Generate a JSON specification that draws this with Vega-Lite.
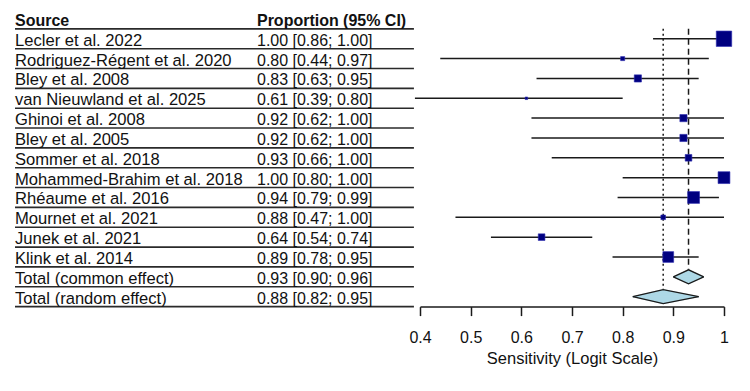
{
  "$schema": "https://vega.github.io/schema/vega-lite/v6.json",
  "padding": {"left": 14, "top": 9, "right": 5, "bottom": 0},
  "bounds": "flush",
  "config": {"view": {"stroke": null}, "font": "Liberation Sans", "text": {"color": "#111"}},
  "datasets": {
    "rows": [
      {"study": "Source", "ci": "Proportion (95% CI)", "type": "header"},
      {"study": "Lecler et al. 2022", "ci": "1.00 [0.86; 1.00]", "est": 1.00, "lower": 0.86, "upper": 1.00, "weight": 25.8, "type": "study"},
      {"study": "Rodriguez-Régent et al. 2020", "ci": "0.80 [0.44; 0.97]", "est": 0.80, "lower": 0.44, "upper": 0.97, "weight": 1.8, "type": "study"},
      {"study": "Bley et al. 2008", "ci": "0.83 [0.63; 0.95]", "est": 0.83, "lower": 0.63, "upper": 0.95, "weight": 5.6, "type": "study"},
      {"study": "van Nieuwland et al. 2025", "ci": "0.61 [0.39; 0.80]", "est": 0.61, "lower": 0.39, "upper": 0.80, "weight": 0.7, "type": "study"},
      {"study": "Ghinoi et al. 2008", "ci": "0.92 [0.62; 1.00]", "est": 0.92, "lower": 0.62, "upper": 1.00, "weight": 5.6, "type": "study"},
      {"study": "Bley et al.  2005", "ci": "0.92 [0.62; 1.00]", "est": 0.92, "lower": 0.62, "upper": 1.00, "weight": 5.6, "type": "study"},
      {"study": "Sommer et al. 2018", "ci": "0.93 [0.66; 1.00]", "est": 0.93, "lower": 0.66, "upper": 1.00, "weight": 4.8, "type": "study"},
      {"study": "Mohammed-Brahim et al. 2018", "ci": "1.00 [0.80; 1.00]", "est": 1.00, "lower": 0.80, "upper": 1.00, "weight": 15.2, "type": "study"},
      {"study": "Rhéaume et al. 2016", "ci": "0.94 [0.79; 0.99]", "est": 0.94, "lower": 0.79, "upper": 0.99, "weight": 15.2, "type": "study"},
      {"study": "Mournet et al. 2021", "ci": "0.88 [0.47; 1.00]", "est": 0.88, "lower": 0.47, "upper": 1.00, "weight": 2.3, "type": "study"},
      {"study": "Junek et al. 2021", "ci": "0.64 [0.54; 0.74]", "est": 0.64, "lower": 0.54, "upper": 0.74, "weight": 4.8, "type": "study"},
      {"study": "Klink et al. 2014", "ci": "0.89 [0.78; 0.95]", "est": 0.89, "lower": 0.78, "upper": 0.95, "weight": 12.6, "type": "study"},
      {"study": "Total (common effect)", "ci": "0.93 [0.90; 0.96]", "est": 0.93, "lower": 0.90, "upper": 0.96, "type": "summary"},
      {"study": "Total (random effect)", "ci": "0.88 [0.82; 0.95]", "est": 0.88, "lower": 0.82, "upper": 0.95, "type": "summary"}
    ]
  },
  "spacing": 0,
  "hconcat": [
    {
      "width": 405,
      "height": 297.6,
      "data": {"name": "rows"},
      "encoding": {
        "y": {"field": "study", "type": "nominal", "axis": null,
          "scale": {"paddingInner": 0, "paddingOuter": 0, "domain": ["Source", "Lecler et al. 2022", "Rodriguez-Régent et al. 2020", "Bley et al. 2008", "van Nieuwland et al. 2025", "Ghinoi et al. 2008", "Bley et al.  2005", "Sommer et al. 2018", "Mohammed-Brahim et al. 2018", "Rhéaume et al. 2016", "Mournet et al. 2021", "Junek et al. 2021", "Klink et al. 2014", "Total (common effect)", "Total (random effect)"]}}
      },
      "layer": [
        {
          "mark": {"type": "rule", "strokeWidth": 1.6, "color": "#2a2a2a"},
          "encoding": {
            "x": {"datum": 0, "type": "quantitative", "scale": {"domain": [0, 1]}, "axis": null},
            "x2": {"datum": 0.985},
            "y": {"field": "study", "type": "nominal", "bandPosition": 1}
          }
        },
        {
          "transform": [{"filter": "datum.type !== 'header'"}],
          "mark": {"type": "text", "align": "left", "baseline": "alphabetic", "dy": 7, "fontSize": 16.6},
          "encoding": {
            "x": {"datum": 0, "type": "quantitative"},
            "text": {"field": "study"}
          }
        },
        {
          "transform": [{"filter": "datum.type !== 'header'"}],
          "mark": {"type": "text", "align": "left", "baseline": "alphabetic", "dy": 7, "fontSize": 16},
          "encoding": {
            "x": {"datum": 0.5975, "type": "quantitative"},
            "text": {"field": "ci"}
          }
        },
        {
          "transform": [{"filter": "datum.type === 'header'"}],
          "mark": {"type": "text", "align": "left", "baseline": "alphabetic", "dy": 7, "fontSize": 16, "fontWeight": "bold"},
          "encoding": {
            "x": {"datum": 0, "type": "quantitative"},
            "text": {"field": "study"}
          }
        },
        {
          "transform": [{"filter": "datum.type === 'header'"}],
          "mark": {"type": "text", "align": "left", "baseline": "alphabetic", "dy": 7, "fontSize": 16, "fontWeight": "bold"},
          "encoding": {
            "x": {"datum": 0.5975, "type": "quantitative"},
            "text": {"field": "ci"}
          }
        }
      ]
    },
    {
      "width": 304,
      "height": 297.6,
      "data": {"name": "rows"},
      "encoding": {
        "y": {"field": "study", "type": "nominal", "axis": null,
          "scale": {"paddingInner": 0, "paddingOuter": 0, "domain": ["Source", "Lecler et al. 2022", "Rodriguez-Régent et al. 2020", "Bley et al. 2008", "van Nieuwland et al. 2025", "Ghinoi et al. 2008", "Bley et al.  2005", "Sommer et al. 2018", "Mohammed-Brahim et al. 2018", "Rhéaume et al. 2016", "Mournet et al. 2021", "Junek et al. 2021", "Klink et al. 2014", "Total (common effect)", "Total (random effect)"]}}
      },
      "layer": [
        {
          "transform": [{"filter": "datum.type === 'summary'"}],
          "mark": {"type": "rule", "strokeWidth": 1.5, "color": "#1a1a1a", "yOffset": -9.9, "y2Offset": -7},
          "encoding": {
            "x": {"field": "est", "type": "quantitative",
              "scale": {"domain": [0.4, 1], "nice": false, "zero": false},
              "axis": {"values": [0.4, 0.5, 0.6, 0.7, 0.8, 0.9, 1], "format": "~g", "grid": false, "labelFlush": false,
                "domainColor": "#1a1a1a", "domainWidth": 1.5, "tickColor": "#1a1a1a", "tickWidth": 1.5, "tickSize": 9,
                "labelFontSize": 16, "labelColor": "#111", "labelPadding": 14, "labelFont": "Liberation Sans",
                "title": "Sensitivity (Logit Scale)", "titleFontSize": 16.5, "titleFontWeight": "normal", "titleColor": "#111", "titlePadding": 5, "titleFont": "Liberation Sans"}},
            "y": {"datum": "Lecler et al. 2022", "type": "nominal"},
            "y2": {"field": "study"},
            "strokeDash": {"field": "study", "type": "nominal", "legend": null,
              "scale": {"domain": ["Total (common effect)", "Total (random effect)"], "range": [[6, 4], [2, 3]]}}
          }
        },
        {
          "transform": [{"filter": "datum.type === 'study'"}],
          "mark": {"type": "rule", "strokeWidth": 1.5, "color": "#1a1a1a"},
          "encoding": {
            "x": {"field": "lower", "type": "quantitative"},
            "x2": {"field": "upper"}
          }
        },
        {
          "transform": [{"filter": "datum.type === 'study'"}],
          "mark": {"type": "point", "shape": "square", "filled": true, "color": "#000080", "stroke": "#2b2bb0", "strokeWidth": 0.6, "opacity": 1},
          "encoding": {
            "x": {"field": "est", "type": "quantitative"},
            "size": {"field": "weight", "type": "quantitative", "legend": null, "scale": {"domain": [0, 26], "range": [0, 240]}}
          }
        },
        {
          "transform": [
            {"filter": "datum.type === 'summary'"},
            {"fold": ["lower", "upper"], "as": ["side", "edge"]},
            {"fold": ["edge", "est"], "as": ["vk", "vx"]}
          ],
          "mark": {"type": "line", "interpolate": "linear-closed", "fill": "#ADD8E6", "stroke": "#ADD8E6", "strokeWidth": 0.8},
          "encoding": {
            "x": {"field": "vx", "type": "quantitative"},
            "yOffset": {"field": "vk", "type": "nominal", "scale": {"type": "point", "domain": ["est", "edge"], "range": [2.9, 9.92], "padding": 0}},
            "detail": {"field": "study"},
            "order": {"field": "vx", "type": "quantitative"}
          }
        },
        {
          "transform": [
            {"filter": "datum.type === 'summary'"},
            {"fold": ["lower", "upper"], "as": ["side", "edge"]},
            {"fold": ["edge", "est"], "as": ["vk", "vx"]}
          ],
          "mark": {"type": "line", "interpolate": "linear-closed", "fill": "#ADD8E6", "stroke": "#ADD8E6", "strokeWidth": 0.8},
          "encoding": {
            "x": {"field": "vx", "type": "quantitative"},
            "yOffset": {"field": "vk", "type": "nominal", "scale": {"type": "point", "domain": ["est", "edge"], "range": [16.94, 9.92], "padding": 0}},
            "detail": {"field": "study"},
            "order": {"field": "vx", "type": "quantitative"}
          }
        },
        {
          "transform": [
            {"filter": "datum.type === 'summary'"},
            {"fold": ["lower", "upper"], "as": ["side", "edge"]},
            {"fold": ["edge", "est"], "as": ["vk", "vx"]}
          ],
          "mark": {"type": "line", "interpolate": "linear", "color": "#1a1a1a", "strokeWidth": 1.3},
          "encoding": {
            "x": {"field": "vx", "type": "quantitative"},
            "yOffset": {"field": "vk", "type": "nominal", "scale": {"type": "point", "domain": ["est", "edge"], "range": [2.9, 9.92], "padding": 0}},
            "detail": {"field": "study"},
            "order": {"field": "vx", "type": "quantitative"}
          }
        },
        {
          "transform": [
            {"filter": "datum.type === 'summary'"},
            {"fold": ["lower", "upper"], "as": ["side", "edge"]},
            {"fold": ["edge", "est"], "as": ["vk", "vx"]}
          ],
          "mark": {"type": "line", "interpolate": "linear", "color": "#1a1a1a", "strokeWidth": 1.3},
          "encoding": {
            "x": {"field": "vx", "type": "quantitative"},
            "yOffset": {"field": "vk", "type": "nominal", "scale": {"type": "point", "domain": ["est", "edge"], "range": [16.94, 9.92], "padding": 0}},
            "detail": {"field": "study"},
            "order": {"field": "vx", "type": "quantitative"}
          }
        }
      ],
      "resolve": {"scale": {"yOffset": "independent"}}
    }
  ]
}
